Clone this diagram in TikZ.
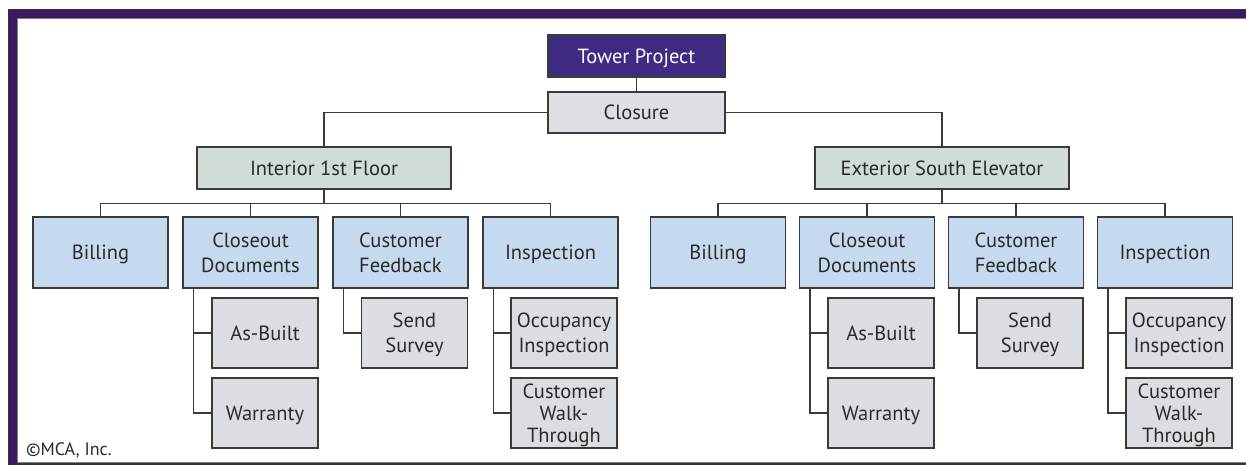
\documentclass[tikz,border=0pt]{standalone}
\usepackage{fontspec}
\setmainfont{PT Sans}
\definecolor{framepurple}{HTML}{3A1862}
\definecolor{towerfill}{HTML}{3F2A84}
\definecolor{closfill}{HTML}{DCDFE3}
\definecolor{greenfill}{HTML}{D0DCD4}
\definecolor{bluefill}{HTML}{C6DAEF}
\definecolor{subfill}{HTML}{DADDE1}
\definecolor{linecol}{HTML}{3A3A3A}
\definecolor{textcol}{HTML}{2A2A2A}
\tikzset{
  box/.style={draw=linecol, line width=1.4pt, align=center, inner sep=0pt, text=textcol,
    text depth=0pt, font=\fontsize{20.5}{25}\selectfont},
  topbox/.style={box, fill=towerfill, text=white, minimum width=177pt, minimum height=42pt},
  closbox/.style={box, fill=closfill, minimum width=177pt, minimum height=41pt},
  areabox/.style={box, fill=greenfill, minimum width=254pt, minimum height=42pt},
  taskbox/.style={box, fill=bluefill, minimum width=135pt, minimum height=71pt},
  subbox/.style={box, fill=subfill, minimum width=106pt, minimum height=70pt},
  tightbox/.style={subbox, font=\fontsize{20.5}{22}\selectfont},
  conn/.style={draw=linecol, line width=1.4pt},
}
\begin{document}
\begin{tikzpicture}[x=1pt, y=-1pt]
\useasboundingbox (0,0) rectangle (1246,465);
% frame
\fill[framepurple, draw=black!80, line width=0.6pt] (8.5,9) rectangle (1250,470);
\fill[white, draw=gray, line width=0.8pt] (17.5,18) rectangle (1250,462.5);
\fill[black!80] (17.5,462.5) rectangle (1250,470);
% top
\node[topbox] (tower) at (636.5,56) {Tower Project};
\node[closbox] (closure) at (636.5,112.5) {Closure};
\node[areabox] (interior) at (324,168) {Interior 1st Floor};
\node[areabox] (exterior) at (942,168) {Exterior South Elevator};
% left group
\node[taskbox] (lb1) at (100.5,252.5) {Billing};
\node[taskbox] (lb2) at (250.5,252.5) {Closeout\\Documents};
\node[taskbox] (lb3) at (400.5,252.5) {Customer\\Feedback};
\node[taskbox] (lb4) at (550.5,252.5) {Inspection};
\node[subbox] (lasb) at (265,333) {As-Built};
\node[subbox] (lwar) at (265,413) {Warranty};
\node[subbox] (lsur) at (414.5,333) {Send\\Survey};
\node[subbox] (locc) at (564,333) {Occupancy\\Inspection};
\node[tightbox] (lwalk) at (564,413) {Customer\\Walk-\\Through};
% right group
\node[taskbox] (rb1) at (718,252.5) {Billing};
\node[taskbox] (rb2) at (867,252.5) {Closeout\\Documents};
\node[taskbox] (rb3) at (1016,252.5) {Customer\\Feedback};
\node[taskbox] (rb4) at (1165,252.5) {Inspection};
\node[subbox] (rasb) at (881,333) {As-Built};
\node[subbox] (rwar) at (881,413) {Warranty};
\node[subbox] (rsur) at (1030,333) {Send\\Survey};
\node[subbox] (rocc) at (1179,333) {Occupancy\\Inspection};
\node[tightbox] (rwalk) at (1179,413) {Customer\\Walk-\\Through};
% connectors
\draw[conn] (tower.south) -- (closure.north);
\draw[conn] (closure.west) -| (interior.north);
\draw[conn] (closure.east) -| (exterior.north);
\foreach \c in {lb1,lb2,lb3,lb4} \draw[conn] (interior.south) -- ++(0,14) -| (\c.north);
\foreach \c in {rb1,rb2,rb3,rb4} \draw[conn] (exterior.south) -- ++(0,14) -| (\c.north);
\draw[conn] ([xshift=11pt]lb2.south west) |- (lasb.west);
\draw[conn] ([xshift=11pt]lb2.south west) |- (lwar.west);
\draw[conn] ([xshift=11pt]lb3.south west) |- (lsur.west);
\draw[conn] ([xshift=11pt]lb4.south west) |- (locc.west);
\draw[conn] ([xshift=11pt]lb4.south west) |- (lwalk.west);
\draw[conn] ([xshift=11pt]rb2.south west) |- (rasb.west);
\draw[conn] ([xshift=11pt]rb2.south west) |- (rwar.west);
\draw[conn] ([xshift=11pt]rb3.south west) |- (rsur.west);
\draw[conn] ([xshift=11pt]rb4.south west) |- (rocc.west);
\draw[conn] ([xshift=11pt]rb4.south west) |- (rwalk.west);
% copyright
\node[anchor=west, inner sep=0pt, text=textcol, font=\fontsize{18}{20}\selectfont] (copy) at (26,450) {©MCA, Inc.};
\end{tikzpicture}
\end{document}
